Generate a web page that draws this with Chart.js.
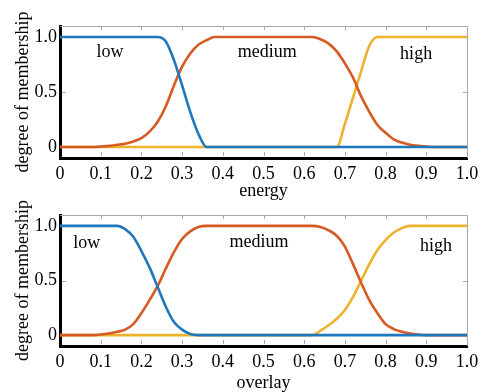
<!DOCTYPE html>
<html>
<head>
<meta charset="utf-8">
<script src="https://cdn.jsdelivr.net/npm/chart.js@4"></script>
<style>
  body { margin: 0; background: #fff; }
  #wrap { position: relative; width: 491px; height: 392px; }
  canvas { position: absolute; left: 0; top: 0; }
</style>
</head>
<body>
<div id="wrap">
  <canvas id="energyChart" width="491" height="392"></canvas>
  <canvas id="overlayChart" width="491" height="392"></canvas>
</div>
<script>
// shared x samples (0 .. 1)
const xValues = [0, 0.02, 0.04, 0.06, 0.08, 0.10, 0.12, 0.14, 0.16, 0.18,
  0.20, 0.22, 0.24, 0.26, 0.28, 0.30, 0.32, 0.34, 0.36, 0.38,
  0.40, 0.42, 0.44, 0.46, 0.48, 0.50, 0.52, 0.54, 0.56, 0.58,
  0.60, 0.62, 0.64, 0.66, 0.68, 0.70, 0.72, 0.74, 0.76, 0.78,
  0.80, 0.82, 0.84, 0.86, 0.88, 0.90, 0.92, 0.94, 0.96, 0.98, 1.00];

// energy (top)
const energyLow = [1, 1, 1, 1, 1, 1, 1, 1, 1, 1,
  1, 1, 1, 0.96, 0.79, 0.56, 0.32, 0.12, 0, 0,
  0, 0, 0, 0, 0, 0, 0, 0, 0, 0,
  0, 0, 0, 0, 0, 0, 0, 0, 0, 0,
  0, 0, 0, 0, 0, 0, 0, 0, 0, 0, 0];
const energyMedium = [0, 0, 0, 0, 0, 0.005, 0.01, 0.02, 0.03, 0.05,
  0.08, 0.14, 0.23, 0.37, 0.56, 0.73, 0.85, 0.93, 0.97, 1,
  1, 1, 1, 1, 1, 1, 1, 1, 1, 1,
  1, 1, 0.98, 0.94, 0.87, 0.76, 0.63, 0.46, 0.32, 0.20,
  0.13, 0.07, 0.04, 0.02, 0.01, 0.005, 0, 0, 0, 0, 0];
const energyHigh = [0, 0, 0, 0, 0, 0, 0, 0, 0, 0,
  0, 0, 0, 0, 0, 0, 0, 0, 0, 0,
  0, 0, 0, 0, 0, 0, 0, 0, 0, 0,
  0, 0, 0, 0, 0, 0.21, 0.45, 0.69, 0.92, 1,
  1, 1, 1, 1, 1, 1, 1, 1, 1, 1, 1];

// overlay (bottom)
const overlayLow = [1, 1, 1, 1, 1, 1, 1, 1, 0.97, 0.90,
  0.77, 0.62, 0.44, 0.26, 0.12, 0.05, 0.01, 0, 0, 0,
  0, 0, 0, 0, 0, 0, 0, 0, 0, 0,
  0, 0, 0, 0, 0, 0, 0, 0, 0, 0,
  0, 0, 0, 0, 0, 0, 0, 0, 0, 0, 0];
const overlayMedium = [0, 0, 0, 0, 0, 0.005, 0.015, 0.03, 0.05, 0.10,
  0.20, 0.32, 0.45, 0.61, 0.76, 0.88, 0.95, 0.99, 1, 1,
  1, 1, 1, 1, 1, 1, 1, 1, 1, 1,
  1, 1, 0.99, 0.96, 0.91, 0.81, 0.65, 0.48, 0.32, 0.20,
  0.10, 0.055, 0.03, 0.015, 0.005, 0, 0, 0, 0, 0, 0];
const overlayHigh = [0, 0, 0, 0, 0, 0, 0, 0, 0, 0,
  0, 0, 0, 0, 0, 0, 0, 0, 0, 0,
  0, 0, 0, 0, 0, 0, 0, 0, 0, 0,
  0, 0, 0.04, 0.09, 0.15, 0.23, 0.35, 0.50, 0.65, 0.78,
  0.87, 0.94, 0.98, 1, 1, 1, 1, 1, 1, 1, 1];

// ticks
const xTickValues = [0, 0.1, 0.2, 0.3, 0.4, 0.5, 0.6, 0.7, 0.8, 0.9, 1];
const xTickLabels = ["0", "0.1", "0.2", "0.3", "0.4", "0.5", "0.6", "0.7", "0.8", "0.9", "1.0"];
const yTickValues = [0, 0.5, 1];
const yTickLabels = ["0", "0.5", "1.0"];

// curve labels
const labelNames = ["low", "medium", "high"];
const energyLabelX = [0.123, 0.509, 0.875];
const energyLabelY = [0.86, 0.86, 0.84];
const overlayLabelX = [0.066, 0.489, 0.924];
const overlayLabelY = [0.84, 0.85, 0.81];

const BLUE = "#1F77BD", ORANGE = "#D75A22", YELLOW = "#EDB32E";
const FONT = "Liberation Serif";
Chart.defaults.font.family = FONT;
Chart.defaults.font.size = 18;
Chart.defaults.color = "#000";

function pts(values) {
  return xValues.map((x, i) => ({ x: x, y: values[i] }));
}

// thin grey top/right frame and small inward tick marks
const framePlugin = {
  id: "frame",
  afterDatasetsDraw(chart) {
    const { ctx, chartArea: a, scales } = chart;
    ctx.save();
    ctx.strokeStyle = "#a8a8a8";
    ctx.lineWidth = 1;
    ctx.beginPath();
    ctx.moveTo(a.left, a.top + 0.5);
    ctx.lineTo(a.right + 0.5, a.top + 0.5);
    ctx.lineTo(a.right + 0.5, a.bottom);
    xTickValues.slice(1, -1).forEach(v => {
      const px = Math.round(scales.x.getPixelForValue(v)) + 0.5;
      ctx.moveTo(px, a.top);
      ctx.lineTo(px, a.top + 4);
      ctx.moveTo(px, a.bottom - 2);
      ctx.lineTo(px, a.bottom - 6);
    });
    const py = Math.round(scales.y.getPixelForValue(0.5)) + 0.5;
    ctx.moveTo(a.right, py);
    ctx.lineTo(a.right - 4, py);
    ctx.moveTo(a.left + 2, py);
    ctx.lineTo(a.left + 6, py);
    ctx.stroke();
    ctx.restore();
  }
};

const labelPlugin = {
  id: "curveLabels",
  afterDatasetsDraw(chart, args, opts) {
    const { ctx, scales } = chart;
    ctx.save();
    ctx.font = "18px '" + FONT + "'";
    ctx.fillStyle = "#000";
    ctx.textAlign = "center";
    ctx.textBaseline = "middle";
    opts.names.forEach((n, i) => {
      ctx.fillText(n, scales.x.getPixelForValue(opts.xs[i]), scales.y.getPixelForValue(opts.ys[i]));
    });
    ctx.restore();
  }
};

function makeChart(canvasId, title, low, medium, high, padTop, padBottom, axisHeight, labelX, labelY) {
  return new Chart(document.getElementById(canvasId), {
    type: "line",
    data: {
      datasets: [
        { data: pts(low), borderColor: BLUE, order: 0 },
        { data: pts(medium), borderColor: ORANGE, order: 1 },
        { data: pts(high), borderColor: YELLOW, order: 2 }
      ]
    },
    options: {
      responsive: false,
      animation: false,
      events: [],
      layout: { padding: { top: padTop, bottom: padBottom, left: 0, right: 24 } },
      elements: {
        line: { borderWidth: 2.6, cubicInterpolationMode: "monotone", fill: false },
        point: { radius: 0 }
      },
      plugins: {
        legend: { display: false },
        tooltip: { enabled: false },
        curveLabels: { names: labelNames, xs: labelX, ys: labelY }
      },
      scales: {
        x: {
          type: "linear",
          min: 0,
          max: 1,
          afterBuildTicks: s => { s.ticks = xTickValues.map(v => ({ value: v })); },
          afterFit: s => { s.height = axisHeight; },
          grid: { display: false, drawTicks: false },
          border: { display: true, color: "#000", width: 3 },
          ticks: {
            padding: 5,
            maxRotation: 0,
            color: "#000",
            font: { family: FONT, size: 18 },
            callback: (v, i) => xTickLabels[i]
          },
          title: {
            display: true,
            text: title,
            color: "#000",
            padding: 0,
            font: { family: FONT, size: 18, lineHeight: 1 }
          }
        },
        y: {
          min: -0.1,
          max: 1.1,
          afterBuildTicks: s => { s.ticks = yTickValues.map(v => ({ value: v })); },
          afterFit: s => { s.width = 60; },
          grid: { display: false, drawTicks: false },
          border: { display: true, color: "#000", width: 3 },
          ticks: {
            padding: 3,
            color: "#000",
            font: { family: FONT, size: 18 },
            callback: (v, i) => yTickLabels[i]
          },
          title: {
            display: true,
            text: "degree of membership",
            color: "#000",
            padding: { top: 12, bottom: 0 },
            font: { family: FONT, size: 18, lineHeight: 1.2 }
          }
        }
      }
    },
    plugins: [framePlugin, labelPlugin]
  });
}

makeChart("energyChart", "energy", energyLow, energyMedium, energyHigh, 26, 192, 42, energyLabelX, energyLabelY);
makeChart("overlayChart", "overlay", overlayLow, overlayMedium, overlayHigh, 215, 0, 46, overlayLabelX, overlayLabelY);
</script>
</body>
</html>
